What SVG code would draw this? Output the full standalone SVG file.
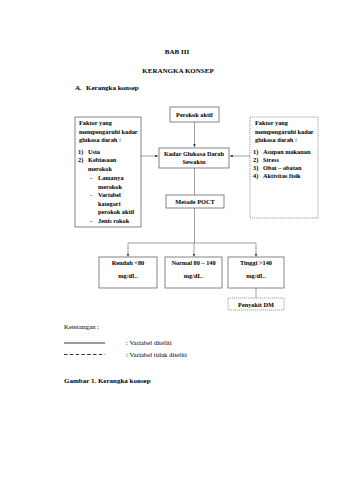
<svg xmlns="http://www.w3.org/2000/svg" width="339" height="480" viewBox="0 0 339 480">
<defs>
<style>
text{font-family:"Liberation Serif","Times New Roman",serif;fill:#000}
.b{font-weight:bold}
.t{font-size:7px;font-weight:bold}
.s{font-size:6.3px;font-weight:bold}
.r{font-size:6.8px}
.box{fill:#fff;stroke:#666;stroke-width:0.8}
.dbox{fill:#fff;stroke:#777;stroke-width:0.7;stroke-dasharray:1.2 0.8}
.ln{fill:none;stroke:#777;stroke-width:0.7}
</style>
<marker id="ah" viewBox="0 0 6 6" refX="6" refY="3" markerWidth="4" markerHeight="4" orient="auto">
<path d="M0,0 L6,3 L0,6 z" fill="#333"/>
</marker>
</defs>
<rect width="339" height="480" fill="#fff"/>

<g id="header">
<text class="t" x="177" y="54" text-anchor="middle">BAB III</text>
<text class="t" x="178" y="73" text-anchor="middle">KERANGKA KONSEP</text>
<text class="t" x="75" y="90">A.</text>
<text class="t" x="86" y="90">Kerangka konsep</text>
</g>

<g id="connectors">
<line class="ln" x1="194.5" y1="122" x2="194.5" y2="147" marker-end="url(#ah)"/>
<line class="ln" x1="141" y1="156" x2="158" y2="156" marker-end="url(#ah)"/>
<line class="ln" x1="250" y1="156" x2="230" y2="156" marker-end="url(#ah)"/>
<line class="ln" x1="194.5" y1="168" x2="194.5" y2="195"/>
<line class="ln" x1="194.5" y1="208" x2="194.5" y2="243"/>
<line class="ln" x1="128" y1="243" x2="256" y2="243"/>
<line class="ln" x1="128" y1="243" x2="128" y2="256.5" marker-end="url(#ah)"/>
<line class="ln" x1="194" y1="243" x2="194" y2="256.5" marker-end="url(#ah)"/>
<line class="ln" x1="256" y1="243" x2="256" y2="256.5" marker-end="url(#ah)"/>
<line class="ln" x1="256" y1="288" x2="256" y2="298"/>
</g>

<g id="perokok">
<rect class="box" x="170" y="107" width="49" height="15"/>
<text class="s" x="194.5" y="117" text-anchor="middle">Perokok aktif</text>
</g>

<g id="faktor-kiri">
<rect class="box" x="75" y="117" width="66" height="110"/>
<text class="s" x="79" y="125">Faktor yang</text>
<text class="s" x="79" y="133.5">mempengaruhi kadar</text>
<text class="s" x="79" y="142">glukosa darah :</text>
<text class="s" x="78" y="154">1)</text><text class="s" x="88" y="154">Usia</text>
<text class="s" x="78" y="162">2)</text><text class="s" x="88" y="162">Kebiasaan</text>
<text class="s" x="88" y="170.5">merokok</text>
<text class="s" x="90" y="180">-</text><text class="s" x="98" y="180">Lamanya</text>
<text class="s" x="98" y="188.5">merokok</text>
<text class="s" x="90" y="197">-</text><text class="s" x="98" y="197">Variabel</text>
<text class="s" x="98" y="205.5">kategori</text>
<text class="s" x="98" y="214">perokok aktif</text>
<text class="s" x="90" y="222.5">-</text><text class="s" x="98" y="222.5">Jenis rokok</text>
</g>

<g id="faktor-kanan">
<rect class="dbox" x="250" y="117" width="68" height="101"/>
<text class="s" x="255" y="125">Faktor yang</text>
<text class="s" x="255" y="133.5">mempengaruhi kadar</text>
<text class="s" x="255" y="142">glukosa darah :</text>
<text class="s" x="253" y="154">1)</text><text class="s" x="263" y="154">Asupan makanan</text>
<text class="s" x="253" y="162">2)</text><text class="s" x="263" y="162">Stress</text>
<text class="s" x="253" y="170">3)</text><text class="s" x="263" y="170">Obat – obatan</text>
<text class="s" x="253" y="178">4)</text><text class="s" x="263" y="178">Aktivitas fisik</text>
</g>

<g id="kadar">
<rect class="box" x="159" y="148" width="70" height="20"/>
<text class="s" x="194" y="156" text-anchor="middle">Kadar Glukosa Darah</text>
<text class="s" x="194" y="164" text-anchor="middle">Sewaktu</text>
</g>

<g id="metode">
<rect class="box" x="166" y="195" width="58" height="13"/>
<text class="s" x="195" y="203.5" text-anchor="middle">Metode POCT</text>
</g>

<g id="rendah">
<rect class="box" x="99" y="257" width="58" height="31"/>
<text class="s" x="128" y="265" text-anchor="middle">Rendah &lt;80</text>
<text class="s" x="128" y="278" text-anchor="middle">mg/dL.</text>
</g>

<g id="normal">
<rect class="box" x="165" y="257" width="57" height="31"/>
<text class="s" x="193.5" y="265" text-anchor="middle">Normal 80 – 140</text>
<text class="s" x="193.5" y="278" text-anchor="middle">mg/dL.</text>
</g>

<g id="tinggi">
<rect class="box" x="228" y="257" width="56" height="31"/>
<text class="s" x="256" y="265" text-anchor="middle">Tinggi &gt;140</text>
<text class="s" x="256" y="278" text-anchor="middle">mg/dL.</text>
</g>

<g id="penyakit">
<rect class="dbox" x="228" y="298" width="56" height="12"/>
<text class="s" x="256" y="306.5" text-anchor="middle">Penyakit DM</text>
</g>

<g id="legend">
<text class="r" x="64" y="329">Keterangan :</text>
<line x1="64" y1="343" x2="105" y2="343" stroke="#000" stroke-width="0.8"/>
<line x1="64" y1="354.5" x2="105" y2="354.5" stroke="#000" stroke-width="0.8" stroke-dasharray="3.5 2.3"/>
<text class="r" x="126" y="344.5">: Variabel diteliti</text>
<text class="r" x="126" y="356.5">: Variabel tidak diteliti</text>
<text class="t" x="64" y="383">Gambar 1. Kerangka konsep</text>
</g>
</svg>
